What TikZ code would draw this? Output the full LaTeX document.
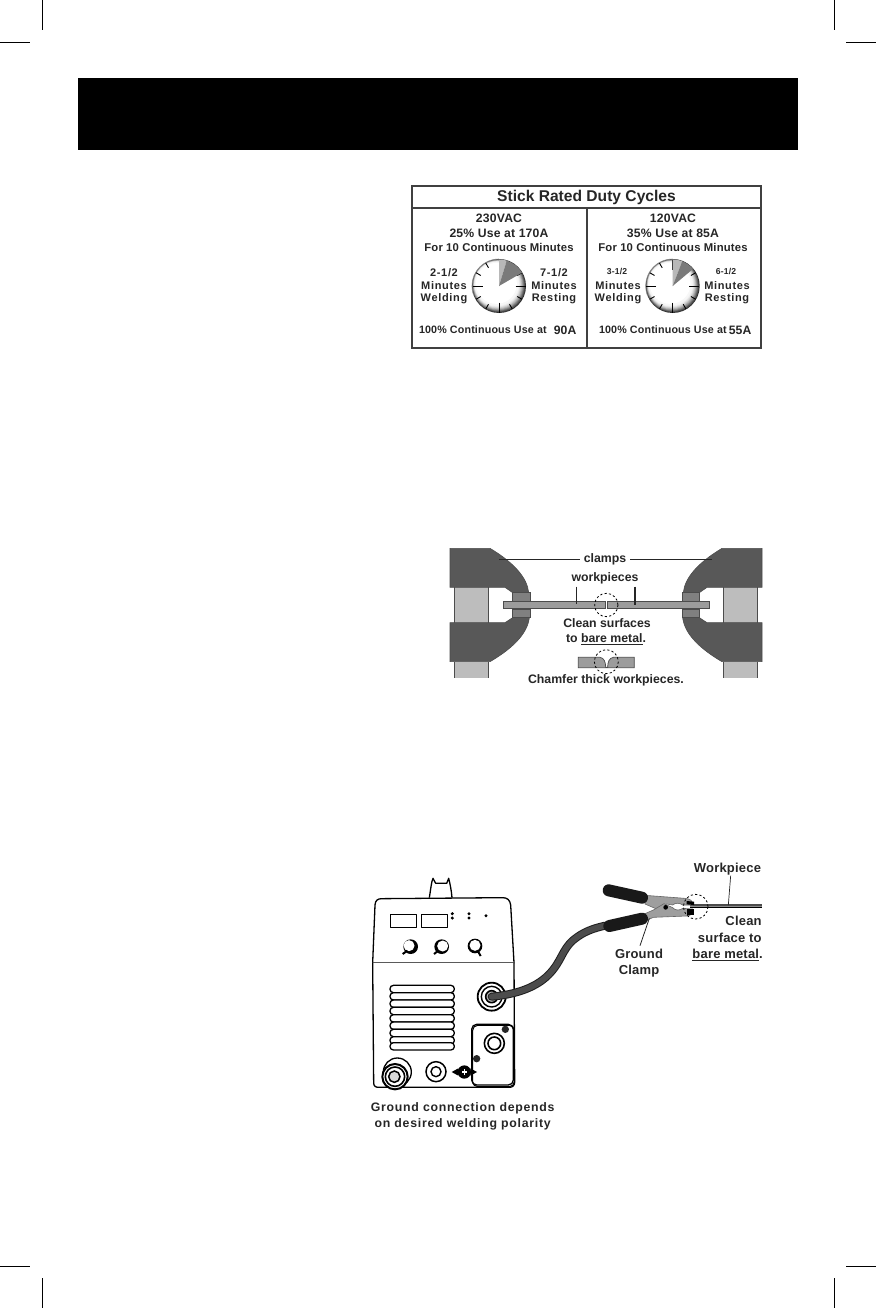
\documentclass[tikz,border=0pt]{standalone}
\usepackage{fontspec}
\setmainfont{Liberation Sans}
\newfontfamily\wide[LetterSpace=6]{Liberation Sans}
\newfontfamily\semi[LetterSpace=1.5]{Liberation Sans}
\usetikzlibrary{calc}
\definecolor{ink}{HTML}{262626}
\definecolor{jawdark}{HTML}{585858}
\definecolor{postgray}{HTML}{BDBDBD}
\definecolor{padgray}{HTML}{808080}
\definecolor{workgray}{HTML}{9C9C9C}
\tikzset{
  crop/.style={line width=1pt,black},
  lbl/.style={inner sep=0pt,outer sep=0pt,text=ink,font=\bfseries\fontsize{10.2}{12}\selectfont},
  hdr/.style={lbl,font=\bfseries\fontsize{15.6}{18}\selectfont},
  volt/.style={lbl,font=\bfseries\semi\fontsize{12.2}{14}\selectfont},
  sub/.style={lbl,font=\bfseries\semi\fontsize{11.3}{13}\selectfont},
  foot/.style={lbl,font=\bfseries\semi\fontsize{10.7}{13}\selectfont},
  side/.style={lbl,font=\bfseries\wide\fontsize{11}{13}\selectfont},
  tiny/.style={lbl,font=\bfseries\semi\fontsize{8.6}{10}\selectfont},
  big/.style={lbl,font=\bfseries\fontsize{12.3}{15}\selectfont},
  bigb/.style={lbl,font=\bfseries\semi\fontsize{13}{15}\selectfont},
  bigw/.style={lbl,font=\bfseries\wide\fontsize{12.3}{15}\selectfont},
  leader/.style={line width=1pt,ink},
  tbl/.style={line width=1.2pt,black!75},
  jaw/.style={fill=jawdark,draw=black!70,line width=.6pt},
  post/.style={fill=postgray,draw=none},
  pad/.style={fill=padgray,draw=black!70,line width=.6pt},
  metal/.style={fill=workgray,draw=black!70,line width=.7pt},
  weld/.style={draw=black,line width=1.3pt,line join=round},
  dashring/.style={draw=black,line width=.8pt,dash pattern=on 2.2pt off 2.2pt}
}
\newcommand\jawset{%
  \path[post] (43,142) rectangle (145,250);
  \path[post] (43,365) rectangle (145,413);
  \draw[black!70,line width=.6pt] (43,142)--(43,248) (145,142)--(145,248) (43,365)--(43,413) (145,365)--(145,413);
  \draw[jaw] (30,25)--(150,25) .. controls (225,70) and (262,115) .. (266,158)--(218,158)--(195,142)--(30,142)--cycle;
  \draw[jaw] (30,248)--(195,248)--(218,233)--(268,233) .. controls (262,285) and (210,330) .. (150,365)--(30,365)--cycle;
  \draw[pad] (218,158) rectangle (270,185);
  \draw[pad] (218,207) rectangle (270,233);
}
\newcommand\dial[3]{%
  \begin{scope}[shift={(#1,286)},y=1pt]
    \fill[black!80] (0,0) circle (27);
    \foreach \i/\c in {1/68,2/55,3/42,4/30,5/20,6/12,7/6,8/3} {
      \fill[black!\c] ({-\i*.28},{\i*.28}) circle ({27-\i*.62});
    }
    \fill[white] (-2.6,2.6) circle (20.5);
    \draw[black!45,line width=.6pt] (90:27) arc (90:200:27);
    \foreach \a in {0,90,180,270} \draw[black,line width=1pt] (\a:16.5)--(\a:26.5);
    \foreach \a in {30,60,120,150,210,240,300,330} \draw[black,line width=.9pt] (\a:21)--(\a:26.5);
    \fill[black!28] (0,0)--(90:26.5) arc (90:#2:26.5)--cycle;
    \fill[black!52] (0,0)--(#2:26.5) arc (#2:#3:26.5)--cycle;
  \end{scope}}
\newcommand\knob[5]{% x y off-x off-y pointer
  \fill[black] (#1,#2) circle (22);
  \fill[white] (#1+#3,#2+#4) circle (16.5);
  \draw[black,line width=2pt] #5;
}
\begin{document}
\begin{tikzpicture}[x=1pt,y=-1pt]
\useasboundingbox (0,0) rectangle (876,1308);
\fill[white] (0,0) rectangle (876,1308);
% crop marks
\foreach \xa/\ya/\xb/\yb in {42.5/0/42.5/30, 0/42.5/30/42.5, 834/0/834/30, 846/42.5/876/42.5, 0/1266/30/1266, 42.5/1278/42.5/1308, 846/1266/876/1266, 834/1278/834/1308}
  \draw[crop] (\xa,\ya)--(\xb,\yb);
% title bar
\fill[black] (78,78) rectangle (798,150);
% duty cycle table
\draw[tbl] (412,186) rectangle (761,348);
\draw[tbl] (412,208)--(761,208);
\draw[tbl] (587,208)--(587,348);
\node[hdr] (tt) at (586.5,197.5) {Stick Rated Duty Cycles};
\node[volt] (va) at (499,218) {230VAC};
\node[volt] (vb) at (499,233) {25\% Use at 170A};
\node[sub] (vc) at (499,247) {For 10 Continuous Minutes};
\node[volt] (wa) at (673,218) {120VAC};
\node[volt] (wb) at (673,233) {35\% Use at 85A};
\node[sub] (wc) at (673,247) {For 10 Continuous Minutes};
\dial{499}{73}{30}
\dial{672.7}{69}{40}
\node[side] (la) at (444,273) {2-1/2};
\node[side] (lb) at (444,286) {Minutes};
\node[side] (lc) at (444,299) {Welding};
\node[side] (ra) at (554,273) {7-1/2};
\node[side] (rb) at (554,286) {Minutes};
\node[side] (rc) at (554,299) {Resting};
\node[tiny] (ma) at (617,271.5) {3-1/2};
\node[side] (mb) at (618,286) {Minutes};
\node[side] (mc) at (618,299) {Welding};
\node[tiny] (na) at (726,271.5) {6-1/2};
\node[side] (nb) at (727,286) {Minutes};
\node[side] (nc) at (727,299) {Resting};
\node[foot,anchor=west] (ua) at (419,330) {100\% Continuous Use at};
\node[volt,anchor=east] (ub) at (576.5,330) {90A};
\node[foot,anchor=west] (ta) at (599,330) {100\% Continuous Use at};
\node[volt,anchor=east] (tb) at (751.5,330) {55A};
% clamps figure
\begin{scope}[shift={(440,540)},x=.33333pt,y=-.33333pt]
  \jawset
\end{scope}
\begin{scope}[shift={(772,540)},x=-.33333pt,y=-.33333pt]
  \jawset
\end{scope}
\begin{scope}[shift={(440,540)},x=.33333pt,y=-.33333pt]
  \draw[metal] (190,184) rectangle (497,206);
  \draw[metal] (503,184) rectangle (808,206);
  \draw[dashring,fill=none] (499,195) circle (35);
  \draw[metal] (415,352)--(480,352) .. controls (492,354) and (497,365) .. (497,382)--(503,382) .. controls (503,365) and (508,354) .. (520,352)--(583,352)--(583,383)--(415,383)--cycle;
  \draw[dashring,fill=none] (499,365) circle (36);
  \node[big] (clampslbl) at (495,58) {clamps};
  \node[big] (workslbl) at (495,115) {workpieces};
  \node[big] (cleanlbl) at (501,250) {Clean surfaces};
  \node[big] (barelbl) at (498,297) {to \underline{bare metal}.};
  \node[big] (chamlbl) at (498,420) {Chamfer thick workpieces.};
  \coordinate (jl) at (178,58);
  \coordinate (jr) at (815,58);
  \coordinate (wl) at (408,192);
  \coordinate (wr) at (585,194);
  \coordinate (wla) at (408,140);
  \coordinate (wra) at (585,140);
  \draw[leader,line width=1.6pt] (clampslbl.west)++(-12,0)--(jl);
  \draw[leader,line width=1.6pt] (clampslbl.east)++(12,0)--(jr);
  \draw[leader,line width=.7pt] (wla)--(wl);
  \draw[leader,line width=1.3pt] (wra)--(wr);
\end{scope}
% welder
\begin{scope}[shift={(360,870)},x=.33333pt,y=-.33333pt]
  \draw[weld] (208,83) .. controls (212,60) and (214,35) .. (219,25)--(227,40)--(260,40)--(266,25) .. controls (270,40) and (274,60) .. (276,83);
  \draw[weld,fill=white] (38,278)--(45,105) .. controls (46,92) and (52,86) .. (65,86)--(428,83) .. controls (442,83) and (450,90) .. (452,105)--(462,278)--cycle;
  \draw[weld,fill=white] (38,278)--(41,638) .. controls (41,648) and (46,652) .. (56,652)--(448,652) .. controls (458,652) and (464,646) .. (464,636)--(462,278);
  \draw[weld] (92,133) rectangle (170,172);
  \draw[weld] (184,133) rectangle (262,172);
  \foreach \kx in {277,327} {
    \fill[black] (\kx,131) circle (5);
    \fill[black] (\kx,144) circle (5);
  }
  \fill[black] (378,137) circle (5);
  \knob{152}{230}{-5}{-3}{(128,252)--(142,242)}
  \knob{245}{230}{3}{-2}{(222,252)--(235,242)}
  \knob{345}{228}{0}{-2}{(362,258)--(354,244)}
  \foreach \vy in {346,368,390,412,434,456,478,500,518} {
    \draw[weld,fill=white,rounded corners=3.4pt] (90,\vy) rectangle (283,\vy+22);
  }
  \draw[black,line width=1.8pt,fill=white] (395,380) circle (42);
  \draw[black,line width=1.4pt,fill=white] (395,380) circle (31);
  \draw[black,line width=1.6pt,fill=black!30] (395,380) circle (18);
  \draw[black,line width=1.3pt,fill=white,rounded corners=5pt] (335,463) rectangle (460,645);
  \draw[black,line width=1pt,rounded corners=5pt] (338,466) rectangle (463,650);
  \draw[black,line width=1.6pt,fill=white] (403,520) circle (30);
  \draw[black,line width=1.6pt,fill=white] (403,520) circle (19);
  \fill[black!85] (436,478) circle (11);
  \fill[black!85] (350,566) circle (11);
  \draw[weld,fill=white] (112,606) circle (42);
  \draw[black,line width=2pt,fill=white] (105,620) circle (38);
  \draw[black,line width=1.6pt,fill=white] (105,620) circle (29);
  \draw[black,line width=1.5pt,fill=black!15] (103,620) circle (17);
  \draw[black,line width=1.5pt,fill=white] (228,605) circle (30);
  \draw[black,line width=1.4pt,fill=white] (228,605) circle (15);
  \fill[black] (313,606) circle (20);
  \fill[black] (275,606)--(295,595)--(295,617)--cycle;
  \fill[black] (351,606)--(331,595)--(331,617)--cycle;
  \fill[white] (305,604) rectangle (321,608);
  \fill[white] (311,598) rectangle (315,614);
  \node[bigw] (gca) at (308,714) {Ground connection depends};
  \node[bigw] (gcb) at (308,762) {on desired welding polarity};
  \coordinate (sock) at (395,380);
\end{scope}
% ground clamp and cable
\begin{scope}[shift={(490,855)},x=.33333pt,y=-.33333pt]
  \coordinate (cstart) at (sock);
  \coordinate (cend) at (345,212);
  \draw[black!88,line width=8pt,line cap=round] (cstart) .. controls (60,420) and (130,405) .. (175,360) .. controls (215,320) and (215,285) .. (250,255) .. controls (280,230) and (310,220) .. (cend);
  \draw[black!70,line width=6pt,line cap=round] (cstart) .. controls (60,420) and (130,405) .. (175,360) .. controls (215,320) and (215,285) .. (250,255) .. controls (280,230) and (310,220) .. (cend);
  \draw[black!70,line width=2.4pt] (600,150)--(815,150);
  \draw[black!45,line width=1.4pt] (600,154)--(815,154);
  \draw[black,line width=1pt] (600,156.5)--(815,156.5);
  \draw[black!60,line width=.6pt,fill=black!38] (465,121)--(585,130) .. controls (600,131) and (610,138) .. (608,150)--(578,150) .. controls (570,143) and (555,143) .. (548,150)--(530,147)--(500,162)--(465,147)--cycle;
  \draw[black!60,line width=.6pt,fill=black!38] (465,176)--(490,165)--(522,146)--(548,158) .. controls (555,167) and (570,167) .. (578,160)--(608,162) .. controls (612,172) and (605,182) .. (590,183)--(490,187)--(470,196)--cycle;
  \fill[black] (590,138)--(612,140)--(612,150)--(590,148)--cycle;
  \fill[black] (590,162)--(612,162)--(612,180)--(590,180)--cycle;
  \fill[black] (527,157) circle (7);
  \draw[black!90,line width=12pt,line cap=round] (356,106)--(456,128);
  \draw[black!90,line width=12pt,line cap=round] (358,213)--(456,191);
  \draw[dashring,fill=none] (617,155) circle (37);
  \node[bigb,anchor=east] (wplbl) at (813,43) {Workpiece};
  \node[bigb,anchor=east] (clbl) at (815,197) {Clean};
  \node[bigb,anchor=east] (slbl) at (815,250) {surface to};
  \node[bigb,anchor=east] (blbl) at (818,300) {\underline{bare metal}.};
  \node[bigb] (ga) at (447,298) {Ground};
  \node[bigb] (gb) at (447,348) {Clamp};
  \coordinate (wpa) at (722,62);
  \coordinate (wpb) at (715,150);
  \coordinate (gta) at (450,272);
  \coordinate (gtb) at (478,190);
  \draw[leader,line width=.7pt] (wpa)--(wpb);
  \draw[leader,line width=.8pt] (gta)--(gtb);
\end{scope}
\end{tikzpicture}
\end{document}
